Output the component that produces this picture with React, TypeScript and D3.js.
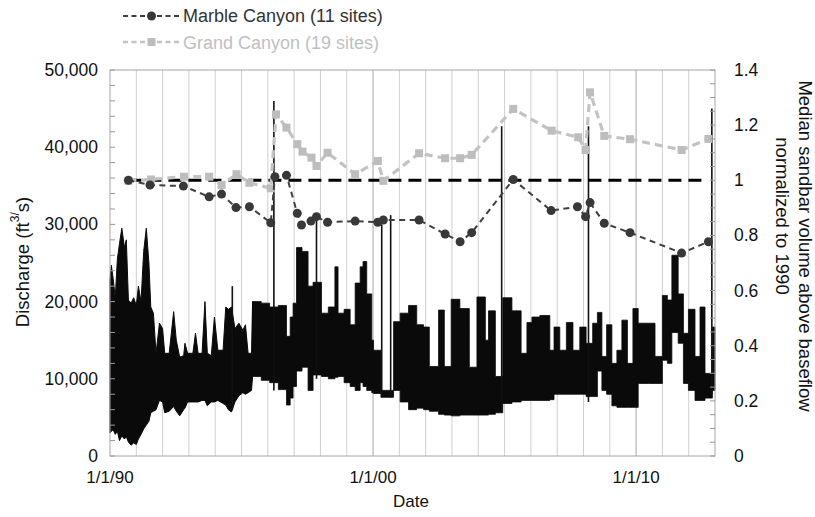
import React from "react";
import * as d3 from "d3";

// ---- Sandbar data (normalized to 1990) ----
const marbleYear = [1990.70, 1991.52, 1992.79, 1993.77, 1994.24, 1994.79, 1995.30, 1996.11, 1996.27, 1996.71, 1997.12, 1997.28, 1997.64, 1997.85, 1998.27, 1999.32, 2000.18, 2000.39, 2001.75, 2002.74, 2003.31, 2003.75, 2005.33, 2006.77, 2007.77, 2008.08, 2008.25, 2008.79, 2009.77, 2011.73, 2012.75];
const marbleValue = [1.000, 0.983, 0.979, 0.940, 0.950, 0.901, 0.904, 0.846, 1.013, 1.018, 0.880, 0.838, 0.852, 0.868, 0.848, 0.852, 0.848, 0.856, 0.856, 0.805, 0.777, 0.810, 1.003, 0.890, 0.904, 0.868, 0.919, 0.844, 0.810, 0.736, 0.777];

const grandYear = [1990.70, 1991.56, 1992.81, 1993.77, 1994.24, 1994.81, 1995.30, 1996.11, 1996.31, 1996.71, 1997.12, 1997.32, 1997.66, 1997.85, 1998.27, 1999.32, 2000.18, 2000.39, 2001.75, 2002.74, 2003.31, 2003.75, 2005.33, 2006.79, 2007.80, 2008.08, 2008.25, 2008.79, 2009.77, 2011.73, 2012.75];
const grandValue = [0.998, 1.003, 1.013, 1.013, 0.983, 1.022, 0.991, 0.971, 1.239, 1.191, 1.131, 1.104, 1.082, 1.052, 1.100, 1.022, 1.070, 0.998, 1.098, 1.080, 1.080, 1.092, 1.259, 1.180, 1.156, 1.110, 1.319, 1.161, 1.149, 1.110, 1.150];

const referenceSpan = [1990.70, 2012.60];
const referenceValue = 1;

// ---- Discharge envelope (cfs), read from the hydrograph ----
// 1990 - mid 1995: fluctuating flows with pointed seasonal peaks
const earlyYear = [1990.00, 1990.05, 1990.12, 1990.20, 1990.28, 1990.36, 1990.45, 1990.55, 1990.62, 1990.70, 1990.80, 1990.90, 1991.00, 1991.08, 1991.18, 1991.28, 1991.38, 1991.48, 1991.55, 1991.65, 1991.75, 1991.88, 1992.00, 1992.08, 1992.25, 1992.42, 1992.52, 1992.65, 1992.80, 1992.85, 1992.95, 1993.15, 1993.25, 1993.35, 1993.50, 1993.61, 1993.70, 1993.85, 1993.97, 1994.10, 1994.30, 1994.40, 1994.50, 1994.62, 1994.75, 1994.90, 1995.05, 1995.15, 1995.25, 1995.38, 1995.42];
const earlyHigh = [22800, 24700, 23000, 20500, 25500, 27500, 29500, 27000, 28000, 20200, 19800, 20500, 19500, 22000, 20000, 26500, 29500, 25000, 19300, 18500, 13300, 17200, 16500, 13300, 13300, 18700, 15000, 12800, 13000, 14600, 13300, 13300, 15900, 13300, 13300, 20000, 13300, 13000, 18000, 13700, 13700, 19300, 19000, 19300, 16500, 17200, 16300, 17000, 13300, 13300, 20000];
const earlyLow = [3000, 3200, 3400, 2800, 3200, 2000, 2600, 2200, 2500, 1800, 1400, 1700, 1500, 2200, 2800, 3500, 4000, 4500, 5600, 5800, 6000, 7200, 7000, 5600, 5800, 6400, 5800, 5200, 6000, 6200, 7000, 7000, 7000, 7000, 7200, 7200, 6500, 7000, 7000, 7200, 6800, 6600, 6000, 5700, 7000, 7800, 8200, 8000, 8200, 8500, 10300];

// mid 1995 - 2013: block-like release patterns
const lateYear = [1995.42, 1995.75, 1996.07, 1996.40, 1996.71, 1996.85, 1996.96, 1997.09, 1997.30, 1997.53, 1997.72, 1998.04, 1998.30, 1998.55, 1998.67, 1998.90, 1999.13, 1999.32, 1999.51, 1999.62, 1999.76, 1999.95, 2000.02, 2000.30, 2000.78, 2001.03, 2001.35, 2001.66, 2001.92, 2002.14, 2002.49, 2002.71, 2002.97, 2003.30, 2003.66, 2003.95, 2004.27, 2004.39, 2004.65, 2004.93, 2005.28, 2005.63, 2005.85, 2006.04, 2006.34, 2006.72, 2006.88, 2007.10, 2007.35, 2007.60, 2007.86, 2008.10, 2008.35, 2008.53, 2008.70, 2008.88, 2009.08, 2009.27, 2009.46, 2009.67, 2009.88, 2010.08, 2010.47, 2010.72, 2011.00, 2011.19, 2011.36, 2011.60, 2011.80, 2011.99, 2012.24, 2012.43, 2012.62, 2012.90, 2013.00];
const lateHigh = [20000, 19800, 19300, 19500, 15500, 18000, 19800, 27000, 26500, 22000, 22500, 18500, 19300, 24500, 18500, 19000, 17000, 22400, 24500, 25200, 21000, 15000, 13700, 8500, 17400, 18500, 19500, 17000, 16700, 11600, 18900, 11600, 20300, 19100, 11500, 20600, 15000, 18800, 10300, 20500, 18800, 13300, 17300, 18000, 18200, 13700, 16700, 13700, 17300, 13700, 16700, 14600, 17200, 18600, 12900, 17000, 12000, 13700, 17600, 12000, 19100, 17200, 17200, 12900, 20800, 20200, 26000, 21000, 15900, 19000, 12900, 19300, 10700, 16700, 16700];
const lateLow = [10300, 9800, 9500, 8600, 6600, 7500, 9000, 11000, 11500, 8500, 10500, 10300, 10000, 10200, 10300, 9500, 9000, 8500, 9500, 9000, 8500, 8200, 8100, 7600, 8500, 7000, 6000, 6200, 6000, 5800, 5400, 5300, 5200, 5300, 5300, 5300, 5300, 5400, 5600, 6800, 7000, 7200, 7200, 7200, 7200, 7300, 8000, 8000, 8000, 8000, 8000, 7700, 7700, 11000, 8500, 8000, 6500, 6300, 6300, 6300, 6300, 9400, 9400, 9400, 12400, 12000, 16000, 14600, 9400, 8500, 7200, 7200, 7500, 8500, 8500];

// High-flow spikes (cfs)
const spikeYear = [1994.65, 1996.23, 1997.85, 2000.33, 2000.67, 2004.89, 2008.19, 2012.88];
const spikePeak = [22000, 46000, 30500, 30000, 31200, 42700, 42700, 45000];
const spikeBase = [6000, 8500, 10000, 7600, 7600, 6000, 7000, 8000];

// ---- Axes ----
const leftTicks = [0, 10000, 20000, 30000, 40000, 50000];
const rightTicks = [0, 0.2, 0.4, 0.6, 0.8, 1, 1.2, 1.4];
const dateTicks = [1990, 2000, 2010];
const dateLabels = ["1/1/90", "1/1/00", "1/1/10"];
const gridYears = d3.range(1991, 2013);

const W = 815, H = 517;
const FONT = "'Liberation Sans', Arial, Helvetica, sans-serif";

export default function App() {
  const x = d3.scaleLinear().domain([1990, 2013]).range([110, 715]);
  const yL = d3.scaleLinear().domain([0, 50000]).range([456, 70]);
  const yR = d3.scaleLinear().domain([0, 1.4]).range([456, 70]);

  const makeArea = (ys: number[], hi: number[], lo: number[], curve: d3.CurveFactory) =>
    d3.area<number>()
      .x((_, i) => x(ys[i]))
      .y0((_, i) => yL(lo[i]))
      .y1((_, i) => yL(hi[i]))
      .curve(curve)(ys) || "";
  const earlyPath = makeArea(earlyYear, earlyHigh, earlyLow, d3.curveLinear);
  const latePath = makeArea(lateYear, lateHigh, lateLow, d3.curveStepAfter);

  const lineR = (ys: number[], vs: number[]) =>
    d3.line<number>().x((_, i) => x(ys[i])).y((_, i) => yR(vs[i]))(ys) || "";

  const fmt = d3.format(",");
  const leftMinor = d3.range(0, 50001, 2000);
  const rightMinor = d3.range(0, 1.4001, 0.05);

  return (
    <svg width={W} height={H} style={{ position: "absolute", left: 0, top: 0, background: "#fff" }} fontFamily={FONT}>
      {/* gridlines */}
      {gridYears.map((g) => (
        <line key={g} x1={x(g)} x2={x(g)} y1={70} y2={456}
          stroke={g % 10 === 0 ? "#a8a8a8" : "#cfcfcf"} strokeWidth={1} />
      ))}

      {/* discharge */}
      <path d={earlyPath} fill="#0a0a0a" stroke="#0a0a0a" strokeWidth={1} strokeLinejoin="miter" />
      <path d={latePath} fill="#0a0a0a" stroke="#0a0a0a" strokeWidth={0.8} />
      {spikeYear.map((s, i) => (
        <line key={i} x1={x(s)} x2={x(s)} y1={yL(spikeBase[i])} y2={yL(spikePeak[i])}
          stroke="#111" strokeWidth={1.6} />
      ))}

      {/* reference line at 1 */}
      <line x1={x(referenceSpan[0])} x2={x(referenceSpan[1])} y1={yR(referenceValue)} y2={yR(referenceValue)}
        stroke="#000" strokeWidth={3} strokeDasharray="13,7" />

      {/* Grand Canyon */}
      <path d={lineR(grandYear, grandValue)} fill="none" stroke="#c3c3c3" strokeWidth={3.2} strokeDasharray="8,5" />
      {grandYear.map((g, i) => (
        <rect key={i} x={x(g) - 4} y={yR(grandValue[i]) - 4} width={8} height={8} fill="#bdbdbd" />
      ))}

      {/* Marble Canyon */}
      <path d={lineR(marbleYear, marbleValue)} fill="none" stroke="#404040" strokeWidth={2} strokeDasharray="6,4.5" />
      {marbleYear.map((g, i) => (
        <circle key={i} cx={x(g)} cy={yR(marbleValue[i])} r={4.5} fill="#383838" />
      ))}

      {/* frame */}
      <rect x={110} y={70} width={605} height={386} fill="none" stroke="#a6a6a6" strokeWidth={1} />

      {/* minor ticks */}
      {leftMinor.map((t) => (
        <line key={"l" + t} x1={110} x2={115} y1={yL(t)} y2={yL(t)} stroke="#999" strokeWidth={1} />
      ))}
      {rightMinor.map((t, i) => (
        <line key={"r" + i} x1={710} x2={715} y1={yR(t)} y2={yR(t)} stroke="#999" strokeWidth={1} />
      ))}

      {/* left tick labels */}
      {leftTicks.map((t) => (
        <text key={t} x={98} y={yL(t)} textAnchor="end" dominantBaseline="central" fontSize={17.5} fill="#111">
          {fmt(t)}
        </text>
      ))}
      {/* right tick labels */}
      {rightTicks.map((t) => (
        <text key={t} x={734} y={yR(t)} textAnchor="start" dominantBaseline="central" fontSize={17.5} fill="#111">
          {String(t)}
        </text>
      ))}
      {/* date labels */}
      {dateTicks.map((t, i) => (
        <text key={t} x={x(t)} y={477} textAnchor="middle" dominantBaseline="central" fontSize={17} fill="#111">
          {dateLabels[i]}
        </text>
      ))}

      {/* axis titles */}
      <text x={411} y={501} textAnchor="middle" dominantBaseline="central" fontSize={17} fill="#111">Date</text>
      <text transform="translate(22,262) rotate(-90)" textAnchor="middle" dominantBaseline="central" fontSize={18.5} fill="#111">
        Discharge (ft<tspan fontSize={12} dy={-7}>3/</tspan><tspan dy={7}>s)</tspan>
      </text>
      <text transform="translate(805,246) rotate(90)" textAnchor="middle" dominantBaseline="central" fontSize={18.5} fill="#111">
        Median sandbar volume above baseflow
      </text>
      <text transform="translate(782,216) rotate(90)" textAnchor="middle" dominantBaseline="central" fontSize={18.5} fill="#111">
        normalized to 1990
      </text>

      {/* legend */}
      <line x1={123} x2={180} y1={16} y2={16} stroke="#404040" strokeWidth={2} strokeDasharray="5,3.5" />
      <circle cx={151.5} cy={16} r={4.5} fill="#383838" />
      <text x={183} y={16} dominantBaseline="central" fontSize={18} fill="#333">Marble Canyon (11 sites)</text>
      <line x1={123} x2={180} y1={42} y2={42} stroke="#c3c3c3" strokeWidth={2.5} strokeDasharray="5,3.5" />
      <rect x={147.5} y={38} width={8} height={8} fill="#bdbdbd" />
      <text x={183} y={43} dominantBaseline="central" fontSize={18} fill="#c0c0c0">Grand Canyon (19 sites)</text>
    </svg>
  );
}
